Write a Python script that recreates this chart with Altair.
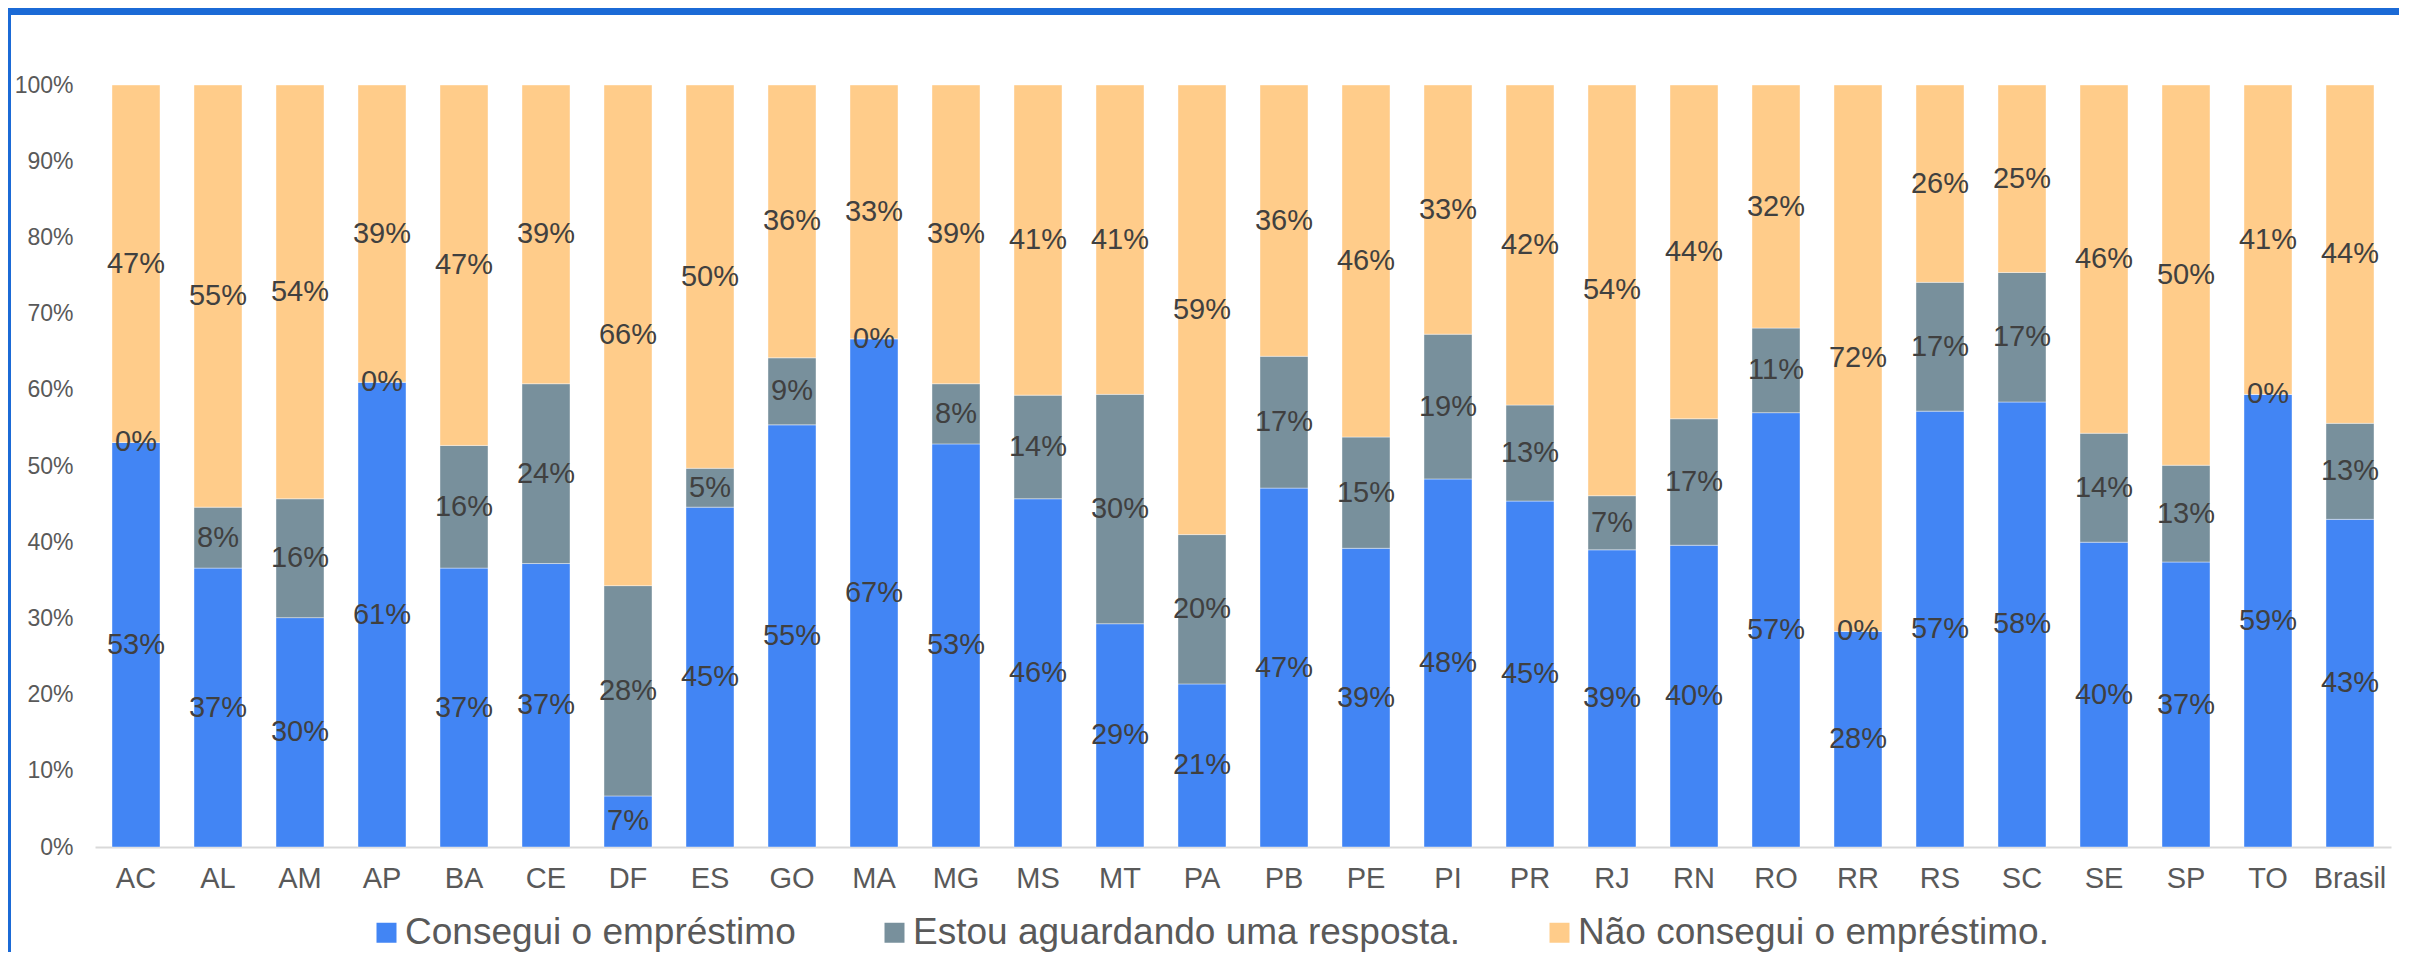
import altair as alt
import pandas as pd

estados = ["AC", "AL", "AM", "AP", "BA", "CE", "DF", "ES", "GO", "MA", "MG", "MS", "MT", "PA",
           "PB", "PE", "PI", "PR", "RJ", "RN", "RO", "RR", "RS", "SC", "SE", "SP", "TO", "Brasil"]

series = ["Consegui o empréstimo", "Estou aguardando uma resposta.", "Não consegui o empréstimo."]

consegui = [53.1, 36.6, 30.1, 61.0, 36.6, 37.2, 6.7, 44.6, 55.4, 66.7, 52.9, 45.7, 29.3, 21.4,
            47.1, 39.2, 48.3, 45.4, 39.0, 39.6, 57.0, 28.3, 57.2, 58.4, 40.0, 37.4, 59.4, 43.0]
aguardando = [0.0, 8.0, 15.6, 0.0, 16.1, 23.6, 27.6, 5.1, 8.8, 0.0, 7.9, 13.6, 30.1, 19.6,
              17.3, 14.6, 19.0, 12.6, 7.1, 16.6, 11.1, 0.0, 16.9, 17.0, 14.3, 12.7, 0.0, 12.6]
nao_consegui = [46.9, 55.4, 54.3, 39.0, 47.3, 39.2, 65.7, 50.3, 35.8, 33.3, 39.2, 40.7, 40.6, 59.0,
                35.6, 46.2, 32.7, 42.0, 53.9, 43.8, 31.9, 71.7, 25.9, 24.6, 45.7, 49.9, 40.6, 44.4]

cores = ["#4285F4", "#78909C", "#FFCC8A"]
ticks_y = [0, 0.1, 0.2, 0.3, 0.4, 0.5, 0.6, 0.7, 0.8, 0.9, 1.0]

FONT = "Liberation Sans"

rows = []
for i, e in enumerate(estados):
    for k, vals in enumerate([consegui, aguardando, nao_consegui]):
        rows.append({
            "estado": e,
            "resposta": series[k],
            "valor": vals[i] / 100.0,
            "ordem": k,
            "rotulo": f"{round(vals[i])}%",
        })
df = pd.DataFrame(rows)

W, H = 2296, 762
PB = 105

x_enc = alt.X(
    "estado:N",
    sort=estados,
    title=None,
    scale=alt.Scale(paddingInner=0.4146, paddingOuter=0.2073),
    axis=alt.Axis(
        labelAngle=0, labelFontSize=29, labelColor="#595959", labelFont=FONT,
        ticks=False, tickSize=0, labelPadding=17,
        domainColor="#D9D9D9", domainWidth=2, grid=False,
    ),
)

bars = alt.Chart(df).mark_bar(stroke="#FFFFFF", strokeWidth=0.8, strokeOpacity=0.5).encode(
    x=x_enc,
    y=alt.Y(
        "valor:Q",
        stack="zero",
        title=None,
        scale=alt.Scale(domain=[0, 1], nice=False),
        axis=alt.Axis(
            values=ticks_y, format=".0%", labelFontSize=23, labelColor="#595959",
            labelFont=FONT, ticks=False, tickSize=0, labelPadding=22,
            domain=False, grid=False,
        ),
    ),
    color=alt.Color(
        "resposta:N",
        scale=alt.Scale(domain=series, range=cores),
        legend=alt.Legend(
            title=None, orient="none", direction="horizontal",
            legendX=273, legendY=829,
            symbolType="square", symbolSize=400, symbolStrokeWidth=0,
            labelFontSize=37, labelColor="#595959", labelFont=FONT,
            labelLimit=2000, labelOffset=0, columnPadding=80, padding=0,
        ),
    ),
    order=alt.Order("ordem:Q"),
)

texts = alt.Chart(df).transform_stack(
    stack="valor", groupby=["estado"], as_=["y0", "y1"],
    sort=[alt.SortField("ordem", order="ascending")],
).transform_calculate(
    meio="(datum.y0 + datum.y1) / 2"
).mark_text(
    fontSize=29, color="#404040", font=FONT, baseline="middle", align="center",
).encode(
    x=x_enc,
    y=alt.Y("meio:Q", scale=alt.Scale(domain=[0, 1], nice=False)),
    text="rotulo:N",
)

frame_top = alt.Chart(df).mark_rule(color="#1B6AD6", strokeWidth=7).encode(
    x=alt.value(-87), x2=alt.value(W + 10), y=alt.value(-73.5)
)
frame_left = alt.Chart(df).mark_rule(color="#1B6AD6", strokeWidth=3).encode(
    x=alt.value(-85.5), y=alt.value(-77), y2=alt.value(H + PB)
)

chart = alt.layer(bars, texts, frame_top, frame_left).properties(
    width=W,
    height=H,
    autosize=alt.AutoSizeParams(type="none"),
    padding={"left": 87, "top": 77, "right": 8, "bottom": PB},
    background="#FFFFFF",
).configure_view(stroke=None)

chart.save("out.html", embed_options={"renderer": "svg", "actions": False})
